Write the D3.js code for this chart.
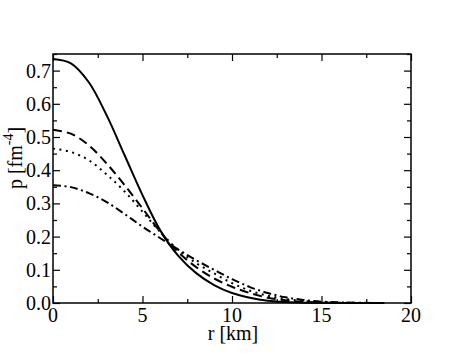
<!DOCTYPE html>
<html><head><meta charset="utf-8">
<script src="https://cdn.jsdelivr.net/npm/d3@7"></script>
<style>body{margin:0;background:#fff}svg{display:block}</style>
</head><body>
<svg id="c" width="463" height="358"></svg>
<script>
const rValues = [0,1,2,3,4,5,6,7,8,9,10,11,12,13,14,15,16,17,18,18.5];
const solid   = [0.735,0.722,0.665,0.565,0.445,0.325,0.218,0.142,0.09,0.054,0.03,0.016,0.007,0.003,0.001,0.0003,0,0,0,0];
const dashed  = [0.522,0.51,0.475,0.42,0.355,0.285,0.214,0.153,0.108,0.074,0.049,0.03,0.016,0.008,0.0035,0.0012,0.0003,0,0,0];
const dotted  = [0.465,0.455,0.43,0.387,0.336,0.275,0.213,0.16,0.12,0.089,0.06,0.037,0.022,0.012,0.006,0.0025,0.001,0.0003,0,0];
const dashDot = [0.355,0.349,0.331,0.304,0.268,0.23,0.195,0.161,0.129,0.1,0.072,0.048,0.03,0.017,0.009,0.004,0.002,0.0008,0.0002,0];
const xTicks = [0,5,10,15,20];
const yTicks = [0,0.1,0.2,0.3,0.4,0.5,0.6,0.7];
const FONT = "Liberation Serif";

const svg = d3.select("#c");
const L=53, R=411, T=54, B=303;
const x = d3.scaleLinear().domain([0,20]).range([L,R]);
const y = d3.scaleLinear().domain([0,0.75]).range([B,T]);

const series = [
  {v: solid, dash: null},
  {v: dashed, dash: "9,5"},
  {v: dotted, dash: "2,4.5"},
  {v: dashDot, dash: "8,3.5,2,3.5"}
];
const line = d3.line().x(d=>x(d[0])).y(d=>y(Math.max(0,d[1]))).curve(d3.curveCatmullRom.alpha(0.5));
const g = svg.append("g");
series.forEach(s=>{
  g.append("path").datum(rValues.map((r,i)=>[r,s.v[i]]))
    .attr("d",line).attr("fill","none").attr("stroke","#000")
    .attr("stroke-width",2).attr("stroke-dasharray",s.dash);
});

const fmtY = d=>d3.format(".1f")(d);
const axB = svg.append("g").attr("transform",`translate(0,${B})`);
axB.call(d3.axisBottom(x).tickValues(d3.range(0,20.01,2.5)).tickSize(-4).tickFormat(""));
axB.call(g=>g.selectAll(".tick line").filter(d=>d%5===0).attr("y2",-7));
const axT = svg.append("g").attr("transform",`translate(0,${T})`);
axT.call(d3.axisTop(x).tickValues(d3.range(0,20.01,2.5)).tickSize(-4).tickFormat(""));
axT.call(g=>g.selectAll(".tick line").filter(d=>d%5===0).attr("y2",7));
const axL = svg.append("g").attr("transform",`translate(${L},0)`);
axL.call(d3.axisLeft(y).tickValues(d3.range(0,0.751,0.05)).tickSize(-4).tickFormat(""));
axL.call(g=>g.selectAll(".tick line").filter((d,i)=>i%2===0).attr("x2",7));
const axR = svg.append("g").attr("transform",`translate(${R},0)`);
axR.call(d3.axisRight(y).tickValues(d3.range(0,0.751,0.05)).tickSize(-4).tickFormat(""));
axR.call(g=>g.selectAll(".tick line").filter((d,i)=>i%2===0).attr("x2",-7));
svg.selectAll(".domain").remove();
svg.selectAll(".tick text").remove();
svg.selectAll(".tick line").attr("stroke","#000").attr("stroke-width",1.2);
svg.append("rect").attr("x",L).attr("y",T).attr("width",R-L).attr("height",B-T)
  .attr("fill","none").attr("stroke","#000").attr("stroke-width",1.5);

svg.append("g").selectAll("text").data(xTicks).join("text")
  .attr("x",d=>x(d)).attr("y",322).attr("text-anchor","middle")
  .attr("font-family",FONT).attr("font-size",20).attr("fill","#000").text(d=>d);
svg.append("g").selectAll("text").data(yTicks).join("text")
  .attr("x",51).attr("y",d=>y(d)+7).attr("text-anchor","end")
  .attr("font-family",FONT).attr("font-size",20).attr("fill","#000").text(fmtY);

svg.append("text").attr("x",233).attr("y",340).attr("text-anchor","middle")
  .attr("font-family",FONT).attr("font-size",20).attr("fill","#000").text("r [km]");
const yl = svg.append("text").attr("transform","translate(22,158) rotate(-90)")
  .attr("text-anchor","middle").attr("font-family",FONT).attr("font-size",20).attr("fill","#000");
yl.append("tspan").text("p [fm");
yl.append("tspan").attr("dy",-9).attr("font-size",14).text("-4");
yl.append("tspan").attr("dy",9).text("]");
</script>
</body></html>
